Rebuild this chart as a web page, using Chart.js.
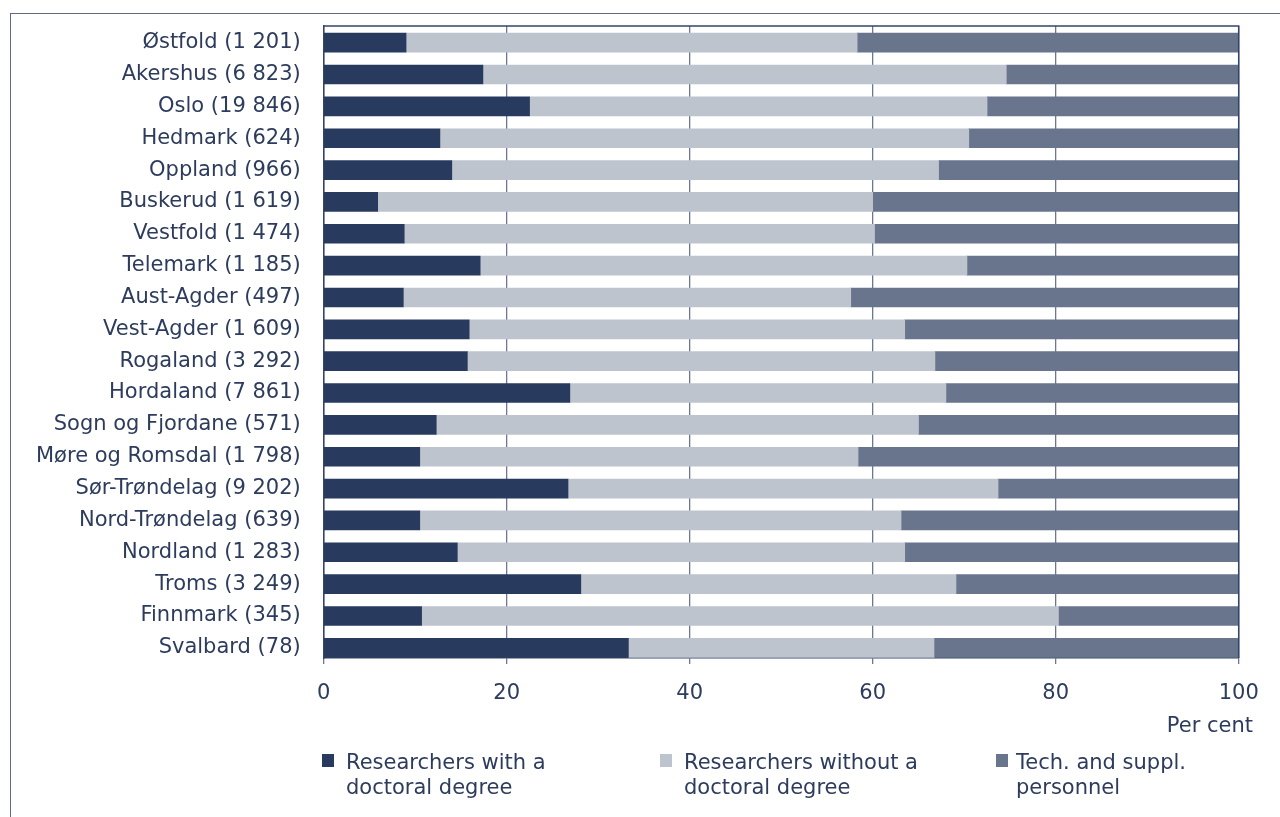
<!DOCTYPE html>
<html><head><meta charset="utf-8">
<script src="https://cdn.jsdelivr.net/npm/chart.js@4.4.0/dist/chart.umd.min.js"></script>
<style>
html,body{margin:0;padding:0;background:#fff;width:1280px;height:817px;overflow:hidden;font-family:"DejaVu Sans",Verdana,sans-serif;color:#2d3c5c;}
#frame{position:absolute;left:10px;top:13px;width:1400px;height:900px;border:1.5px solid #5e6b87;}
#wrap{position:absolute;left:0;top:0;width:1280px;height:817px;}
#unit{position:absolute;right:27px;top:713px;font-size:21px;line-height:25px;}
.leg{position:absolute;top:750px;font-size:21px;line-height:25px;white-space:nowrap;}
.leg .sw{position:absolute;top:4px;width:12px;height:13px;}
</style>
</head><body>
<div id="frame"></div>
<div id="wrap"><canvas id="c" width="1280" height="817"></canvas></div>
<div id="unit">Per cent</div>
<div id="legend"></div>
<script>
const categories = ["Østfold (1 201)","Akershus (6 823)","Oslo (19 846)","Hedmark (624)","Oppland (966)","Buskerud (1 619)","Vestfold (1 474)","Telemark (1 185)","Aust-Agder (497)","Vest-Agder (1 609)","Rogaland (3 292)","Hordaland (7 861)","Sogn og Fjordane (571)","Møre og Romsdal (1 798)","Sør-Trøndelag (9 202)","Nord-Trøndelag (639)","Nordland (1 283)","Troms (3 249)","Finnmark (345)","Svalbard (78)"];
const withDoctoral    = [9.0,17.4,22.5,12.7,14.0,5.9,8.8,17.1,8.7,15.9,15.7,26.9,12.3,10.5,26.7,10.5,14.6,28.1,10.7,33.3];
const withoutDoctoral = [49.3,57.2,50.0,57.8,53.2,54.1,51.4,53.2,48.9,47.6,51.1,41.1,52.7,47.9,47.0,52.6,48.9,41.0,69.6,33.4];
const techSupport     = [41.7,25.4,27.5,29.5,32.8,40.0,39.8,29.7,42.4,36.5,33.2,32.0,35.0,41.6,26.3,36.9,36.5,30.9,19.7,33.3];
const seriesNames = [["Researchers with a","doctoral degree"],["Researchers without a","doctoral degree"],["Tech. and suppl.","personnel"]];
const seriesColors = ["#283a5e","#bec4cd","#68758d"];
const xTicks = [0,20,40,60,80,100];

const textColor = "#2d3c5c";
Chart.defaults.font.family = "'DejaVu Sans', Verdana, sans-serif";
Chart.defaults.font.size = 21;
Chart.defaults.color = textColor;

const toPoints = arr => arr.map((v,i)=>({x:v,y:i}));
const seriesData = [withDoctoral, withoutDoctoral, techSupport];

const frameLines = {
  id:'frameLines',
  afterDraw(chart){
    const {ctx, chartArea:a} = chart;
    ctx.save();
    ctx.strokeStyle = "#34446a";
    ctx.lineWidth = 1.5;
    ctx.beginPath();
    ctx.moveTo(a.left, a.top);
    ctx.lineTo(a.right, a.top);
    ctx.lineTo(a.right, a.bottom);
    ctx.stroke();
    ctx.restore();
  }
};

new Chart(document.getElementById('c'), {
  type:'bar',
  data:{
    datasets: seriesData.map((d,k)=>({
      label: seriesNames[k].join(' '),
      data: toPoints(d),
      backgroundColor: seriesColors[k],
      borderWidth: 0,
      barThickness: 19
    }))
  },
  options:{
    indexAxis:'y',
    responsive:false,
    animation:false,
    layout:{padding:{top:26,right:41.3,left:0,bottom:0}},
    plugins:{legend:{display:false},tooltip:{enabled:false}},
    scales:{
      x:{
        type:'linear', stacked:true, min:0, max:100,
        afterBuildTicks: s => { s.ticks = xTicks.map(v=>({value:v})); },
        afterFit: s => { s.height = 159; s.paddingLeft = 0; s.paddingRight = 0; },
        ticks:{padding:17, color:textColor},
        grid:{color:"#6b7793", lineWidth:1.3, tickLength:6, drawTicks:true},
        border:{display:true, color:"#34446a", width:1.5}
      },
      y:{
        type:'linear', stacked:true, reverse:true, offset:false, min:-0.524, max:19.32,
        afterBuildTicks: s => { s.ticks = categories.map((c,i)=>({value:i})); },
        afterFit: s => { s.width = 323.7; s.paddingTop = 0; s.paddingBottom = 0; },
        ticks:{autoSkip:false, padding:23, color:textColor, callback:(v)=>categories[v]},
        grid:{display:false, drawTicks:false, offset:false},
        border:{display:true, color:"#34446a", width:1.5}
      }
    }
  },
  plugins:[frameLines]
});

const legendPos = [{text:346, sw:322},{text:684, sw:660},{text:1016, sw:996}];
const leg = document.getElementById('legend');
seriesNames.forEach((lines,k)=>{
  const d = document.createElement('div');
  d.className='leg';
  d.style.left = legendPos[k].text+'px';
  d.innerHTML = lines.join('<br>');
  const sw = document.createElement('span');
  sw.className='sw';
  sw.style.left = (legendPos[k].sw-legendPos[k].text)+'px';
  sw.style.background = seriesColors[k];
  d.appendChild(sw);
  leg.appendChild(d);
});
</script>
</body></html>
